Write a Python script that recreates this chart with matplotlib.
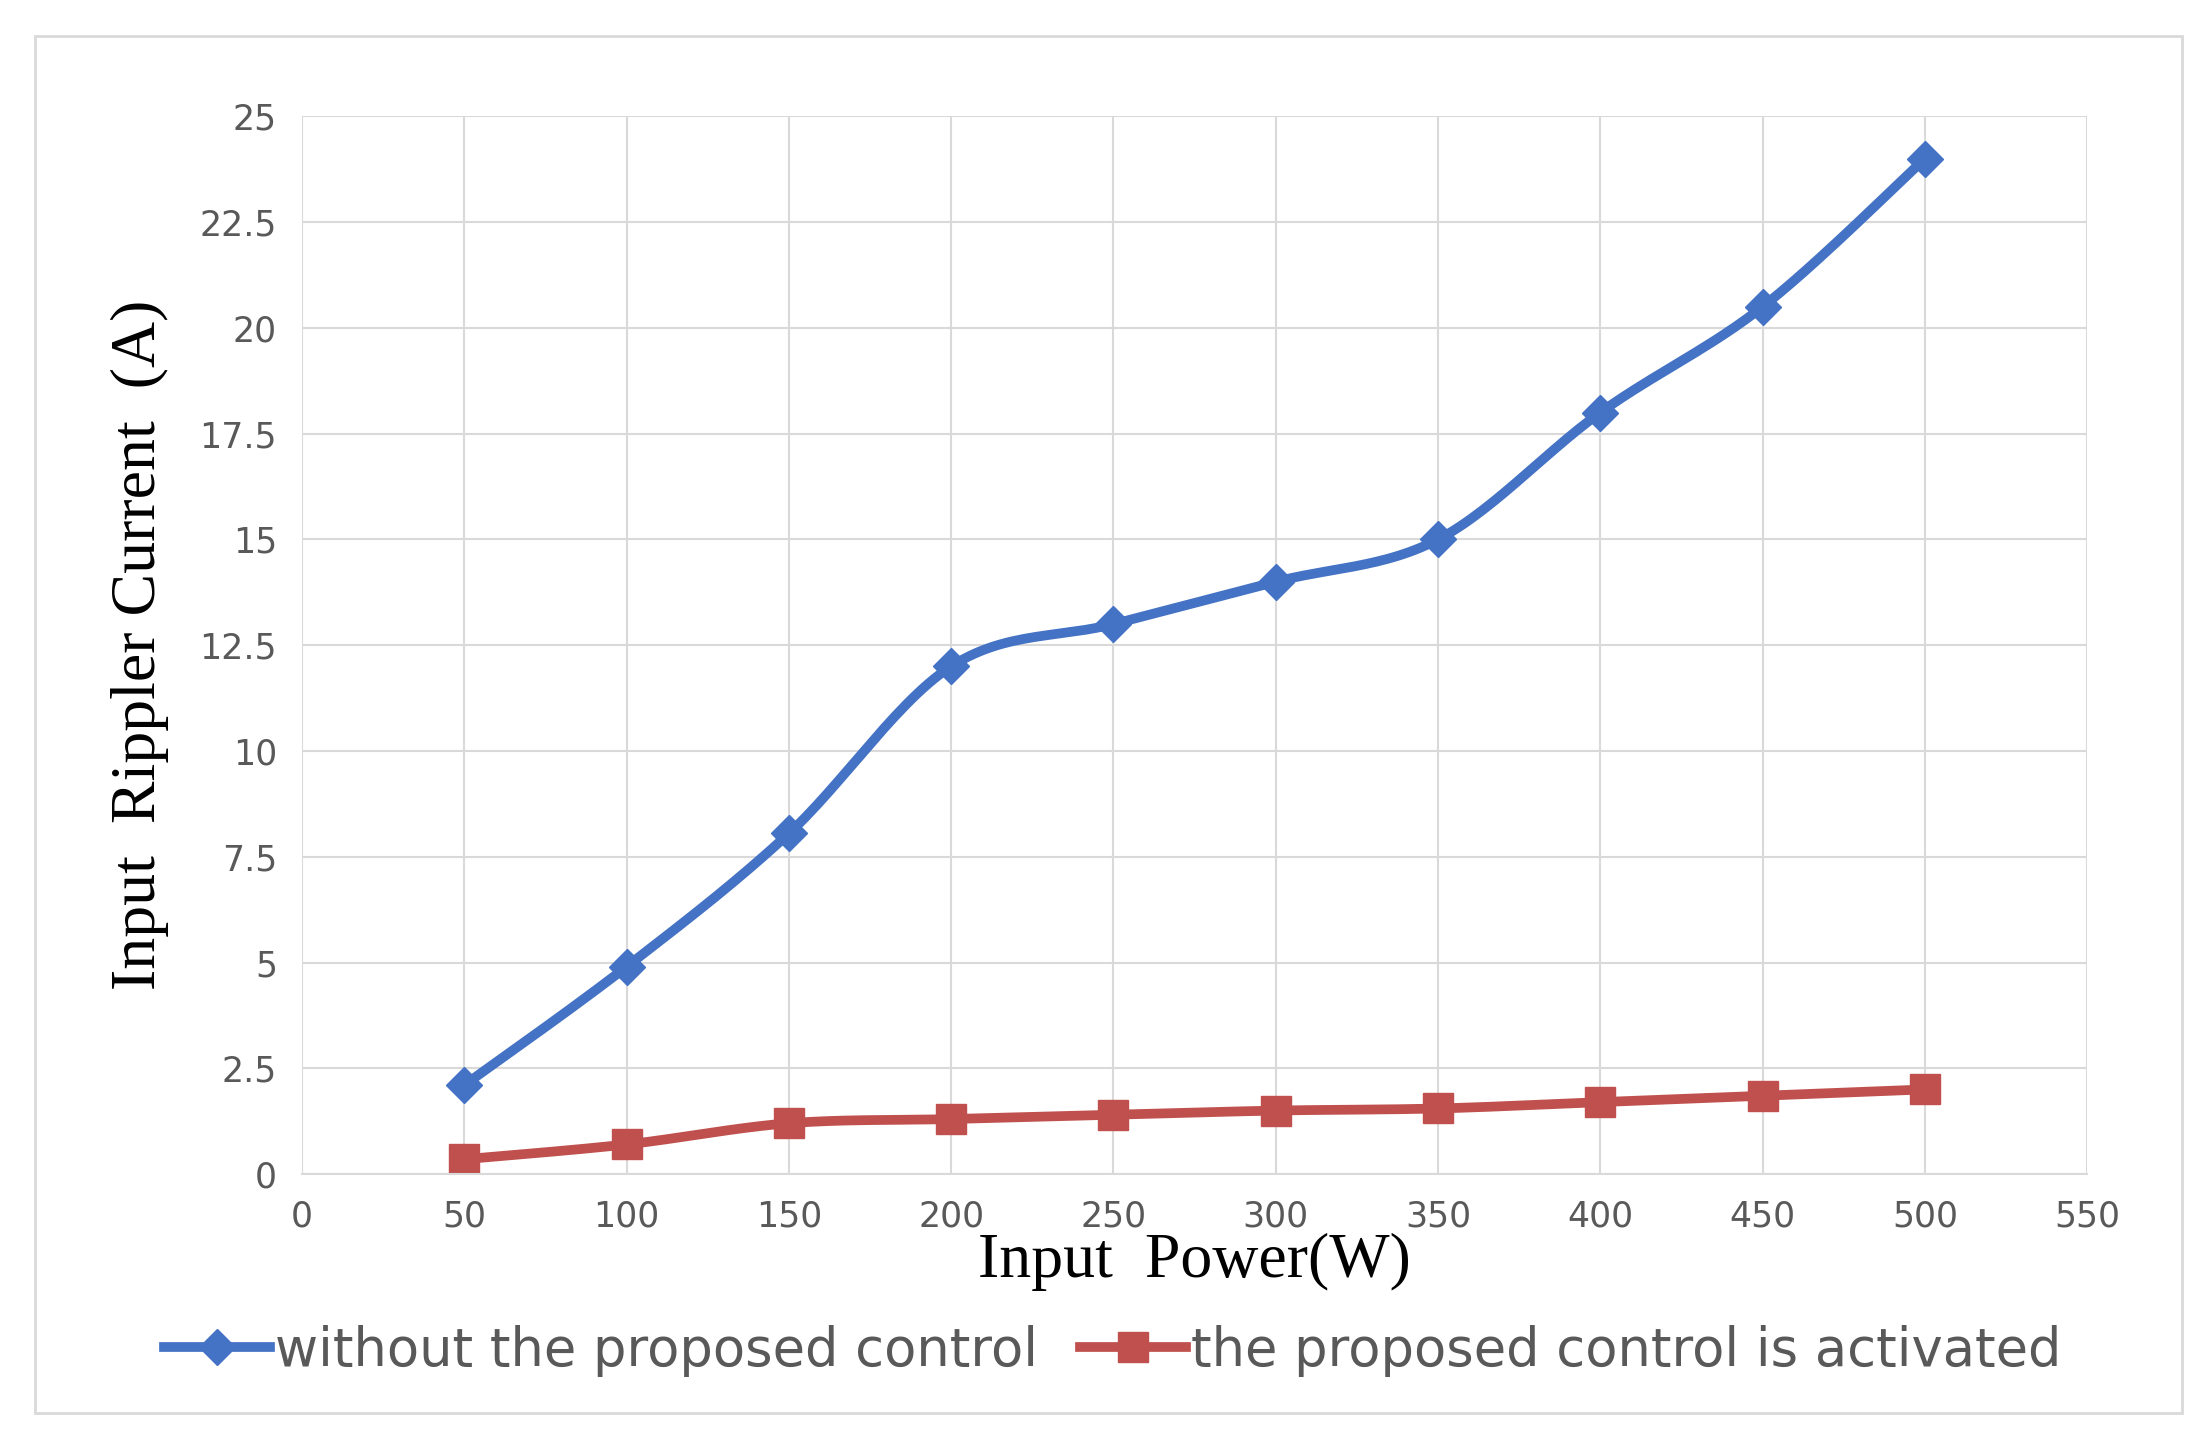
import numpy as np
import matplotlib
matplotlib.use("Agg")
import matplotlib.pyplot as plt
from matplotlib.patches import Rectangle
from matplotlib.lines import Line2D

power = [50, 100, 150, 200, 250, 300, 350, 400, 450, 500]
without_ctrl = [2.1, 4.9, 8.05, 12.0, 13.0, 14.0, 15.0, 18.0, 20.5, 24.0]
with_ctrl = [0.35, 0.7, 1.2, 1.3, 1.4, 1.5, 1.55, 1.7, 1.85, 2.0]
xticks = list(range(0, 551, 50))
yticks = [0, 2.5, 5, 7.5, 10, 12.5, 15, 17.5, 20, 22.5, 25]

def smooth(x, y, n=30):
    P = np.column_stack([np.asarray(x, float), np.asarray(y, float)])
    P = np.vstack([P[0], P, P[-1]])
    out = []
    t = np.linspace(0, 1, n)[:, None]
    for i in range(1, len(P) - 2):
        p0, p1, p2, p3 = P[i-1], P[i], P[i+1], P[i+2]
        c1 = p1 + (p2 - p0) / 6
        c2 = p2 - (p3 - p1) / 6
        out.append((1-t)**3*p1 + 3*t*(1-t)**2*c1 + 3*t**2*(1-t)*c2 + t**3*p2)
    out = np.vstack(out)
    return out[:, 0], out[:, 1]

blue = "#4472C4"; red = "#C0504D"
fig = plt.figure(figsize=(22.04, 14.37), dpi=100)
fig.patches.append(Rectangle((0.016, 0.017), 0.974, 0.958, transform=fig.transFigure,
                             fill=False, edgecolor="#D9D9D9", linewidth=2))
ax = fig.add_axes([0.137, 0.183, 0.81, 0.736])
sx, sy = smooth(power, without_ctrl)
ax.plot(sx, sy, color=blue, lw=7)
ax.plot(power, without_ctrl, ls="none", marker="D", ms=18, color=blue)
rx, ry = smooth(power, with_ctrl)
ax.plot(rx, ry, color=red, lw=7)
ax.plot(power, with_ctrl, ls="none", marker="s", ms=22, color=red)
ax.set_xlim(0, 550); ax.set_ylim(0, 25)
ax.set_xticks(xticks); ax.set_yticks(yticks)
ax.set_xticklabels([str(v) for v in xticks])
ax.set_yticklabels([f"{v:g}" for v in yticks])
ax.grid(True, color="#D9D9D9", lw=1.5)
ax.set_axisbelow(True)
for s in ["top", "right", "left"]:
    ax.spines[s].set_visible(False)
ax.spines["bottom"].set_color("#D9D9D9"); ax.spines["bottom"].set_linewidth(1.5)
ax.tick_params(length=0, labelsize=25, labelcolor="#595959", pad=18)
ax.set_xlabel("Input  Power(W)", family="Liberation Serif", fontsize=46, labelpad=0)
ax.set_ylabel("Input  Rippler Current  (A)", family="Liberation Serif", fontsize=46, labelpad=22)
h = [Line2D([], [], color=blue, lw=7, marker="D", ms=18),
     Line2D([], [], color=red, lw=7, marker="s", ms=22)]
fig.legend(h, ["without the proposed control", "the proposed control is activated"],
           loc="center", bbox_to_anchor=(0.505, 0.06), ncol=2, frameon=False,
           fontsize=38, handlelength=2.0, handletextpad=0.1, columnspacing=0.8,
           labelcolor="#595959")
fig.savefig("out.png", dpi=100)
